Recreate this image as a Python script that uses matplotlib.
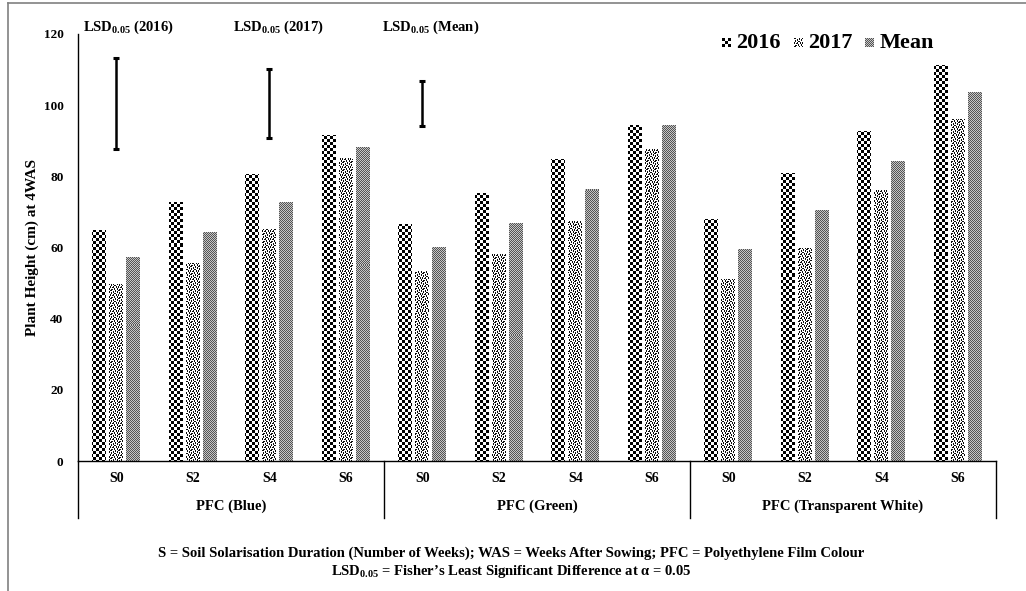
import numpy as np
import matplotlib
matplotlib.use("Agg")
import matplotlib.pyplot as plt
import matplotlib.transforms as mtransforms
from matplotlib.lines import Line2D
from matplotlib.offsetbox import OffsetImage, TextArea, HPacker, AnchoredOffsetbox

plt.rcParams['font.family'] = ['Liberation Serif', 'DejaVu Serif']
plt.rcParams['font.weight'] = 'bold'
plt.rcParams['mathtext.fontset'] = 'custom'
plt.rcParams['mathtext.rm'] = 'Liberation Serif:bold'
plt.rcParams['mathtext.it'] = 'Liberation Serif:bold'
plt.rcParams['mathtext.bf'] = 'Liberation Serif:bold'

# data
durations = ['S0', 'S2', 'S4', 'S6']
films = ['PFC (Blue)', 'PFC (Green)', 'PFC (Transparent White)']
series = ['2016', '2017', 'Mean']
h2016 = [64.9, 72.9, 80.6, 91.6, 66.5, 75.4, 84.8, 94.3, 67.9, 81.0, 92.8, 111.3]
h2017 = [49.7, 55.6, 65.1, 85.1, 53.5, 58.1, 67.5, 87.8, 51.1, 59.9, 76.1, 96.0]
hmean = [57.4, 64.3, 72.7, 88.3, 60.1, 66.9, 76.3, 94.3, 59.5, 70.5, 84.2, 103.6]
lsd_names = ['2016', '2017', 'Mean']
lsd_vals = [25.5, 19.5, 12.6]
lsd_mid = 100.5

W, H, DPI = 1026, 591, 100
ax_px = (78, 130, 918, 427)  # left, bottom, width, height in pixels

fig = plt.figure(figsize=(W / DPI, H / DPI), dpi=DPI)
ax = fig.add_axes([ax_px[0] / W, ax_px[1] / H, ax_px[2] / W, ax_px[3] / H])

CONFETTI = np.array([[1, 1, 0, 0, 0, 1, 0, 0],
                     [0, 0, 0, 1, 0, 1, 0, 1],
                     [0, 1, 0, 1, 0, 0, 0, 1],
                     [0, 1, 0, 0, 1, 1, 0, 0],
                     [1, 0, 0, 1, 0, 0, 1, 0],
                     [1, 0, 1, 1, 0, 0, 1, 0],
                     [0, 0, 0, 0, 1, 0, 0, 1],
                     [0, 1, 1, 0, 1, 0, 0, 1]])


def texture(kind, h, w):
    yy, xx = np.mgrid[0:h, 0:w]
    if kind == 'check':
        v = ((xx // 3 + yy // 3) % 2).astype(float)
    elif kind == 'confetti':
        v = 1.0 - CONFETTI[yy % 8, xx % 8] * 0.95
    else:
        v = np.where((xx + yy) % 2 == 0, 0.33, 0.78)
    return np.dstack([v, v, v])


kinds = ['check', 'confetti', 'fine']
n = len(h2016)
x = np.arange(n)
width = 0.18
offs = [-0.222, 0.0, 0.222]
xlim = (-0.5, n - 0.5)
ylim = (0, 120)
ax.set_xlim(*xlim)
ax.set_ylim(*ylim)

for vals, off, kind in zip([h2016, h2017, hmean], offs, kinds):
    tex = texture(kind, ax_px[3], ax_px[2])
    bars = ax.bar(x + off, vals, width, facecolor='none', linewidth=0)
    for b in bars:
        im = ax.imshow(tex, extent=(xlim[0], xlim[1], ylim[0], ylim[1]),
                       aspect='auto', interpolation='nearest', origin='upper', zorder=1)
        im.set_clip_path(b)

ax.set_xlim(*xlim)
ax.set_ylim(*ylim)

# LSD bars
lsd_x = [0, 2, 4]
ax.errorbar(lsd_x, [lsd_mid] * 3, yerr=np.array(lsd_vals) / 2, fmt='none',
            ecolor='black', elinewidth=1.8, capsize=2.5, capthick=2.2, zorder=3)
for xl, name in zip([-0.43, 1.52, 3.47], lsd_names):
    ax.text(xl, 121.8, r'LSD$_{0.05}$ (' + name + ')', fontsize=10.5, ha='left', va='center',
            clip_on=False)

# axes styling
for s in ['top', 'right']:
    ax.spines[s].set_visible(False)
ax.spines['left'].set_linewidth(1.0)
ax.spines['bottom'].set_linewidth(1.0)
ax.set_yticks(np.arange(0, 121, 20))
ax.tick_params(axis='y', length=0, pad=10.5, labelsize=9.5)
ax.set_xticks([])
ax.set_ylabel('Plant Height (cm) at 4WAS', fontsize=11, fontweight='bold', labelpad=3)

# two-level category axis
tr = mtransforms.blended_transform_factory(ax.transData, ax.transAxes)
for i in range(n):
    ax.text(i, -0.04, durations[i % 4], transform=tr, ha='center', va='center', fontsize=10)
for g, name in enumerate(films):
    ax.text(g * 4 + 1.5, -0.105, name, transform=tr, ha='center', va='center', fontsize=10.5)
for xb in [-0.5, 3.5, 7.5, 11.5]:
    ax.add_line(Line2D([xb, xb], [0, -0.134], transform=tr, color='black', lw=1.0,
                       clip_on=False))

# legend
items = []
for name, kind in zip(series, kinds):
    sw = texture(kind, 9, 9)
    img = OffsetImage(sw, zoom=1, dpi_cor=False, interpolation='nearest')
    txt = TextArea(name, textprops=dict(fontsize=16, fontweight='bold'))
    items.append(HPacker(children=[img, txt], align='center', pad=0, sep=4))
legbox = HPacker(children=items, align='center', pad=0, sep=9)
anchored = AnchoredOffsetbox(loc='center', child=legbox, pad=0, borderpad=0, frameon=False,
                             bbox_to_anchor=(828 / W, 1 - 43 / H),
                             bbox_transform=fig.transFigure)
fig.add_artist(anchored)

# footer notes
fig.text(511 / W, 1 - 553 / H,
         'S = Soil Solarisation Duration (Number of Weeks); WAS = Weeks After Sowing; '
         'PFC = Polyethylene Film Colour', ha='center', va='center', fontsize=10.5)
fig.text(511 / W, 1 - 572 / H,
         r'LSD$_{0.05}$ = Fisher’s Least Significant Difference at α = 0.05',
         ha='center', va='center', fontsize=10.5)

# outer frame
fig.add_artist(Line2D([8 / W, 8 / W], [0, 1 - 3 / H], transform=fig.transFigure,
                      color='#808080', lw=1.2))
fig.add_artist(Line2D([8 / W, 1], [1 - 3 / H, 1 - 3 / H], transform=fig.transFigure,
                      color='#808080', lw=1.2))

fig.savefig('out.png', dpi=DPI)
